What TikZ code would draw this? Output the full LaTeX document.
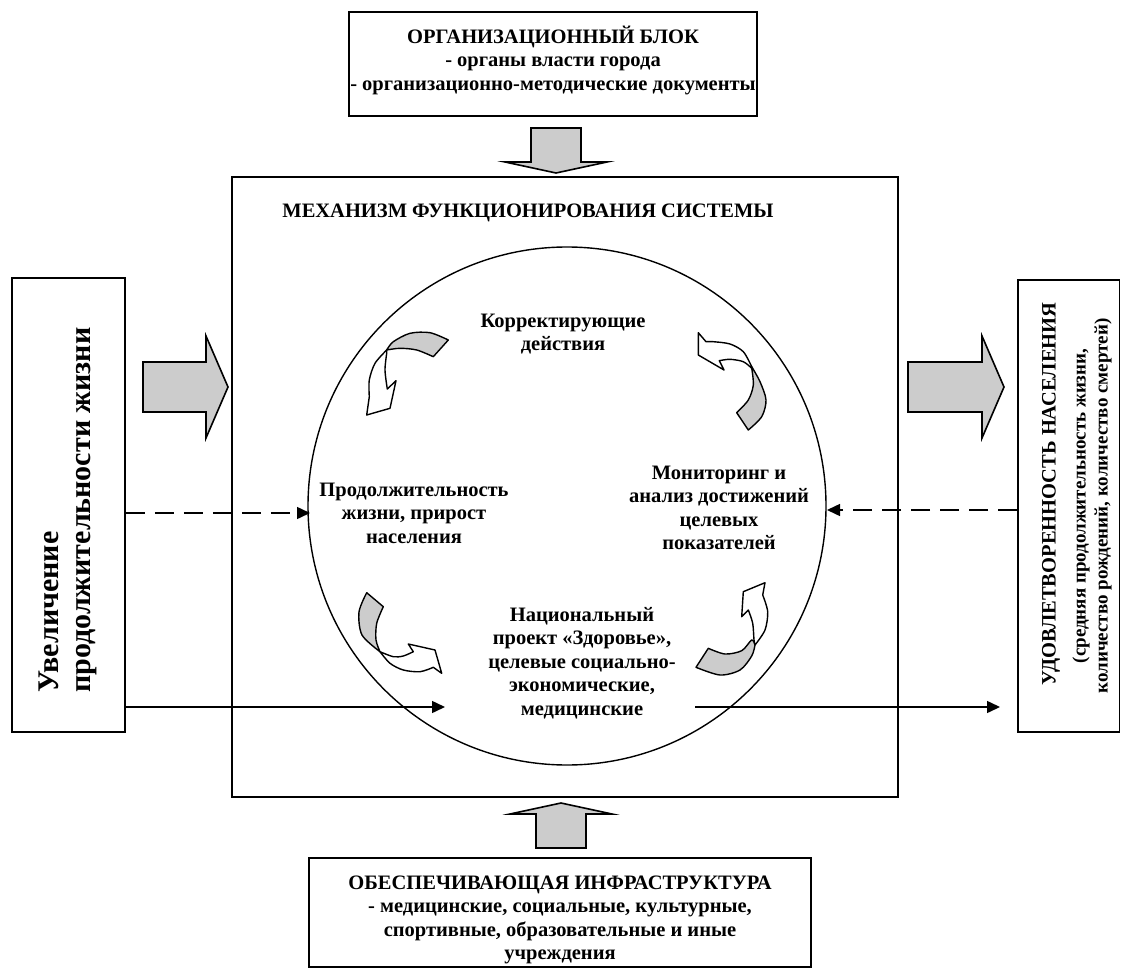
\documentclass[tikz,border=0pt]{standalone}
\usepackage{fontspec}
\setmainfont{Liberation Serif}
\usetikzlibrary{arrows.meta}
\begin{document}
\begin{tikzpicture}[x=1pt,y=-1pt,
  frame/.style={draw, line width=1.8pt, inner sep=0pt},
  lbl/.style={font=\fontsize{20.5}{23.5}\selectfont\bfseries, align=center, inner sep=0pt},
  bigarrow/.style={draw, line width=1.6pt, fill=black!20, line join=miter},
  flow/.style={line width=1.5pt, -{Triangle[length=13pt,width=12pt]}},
  dashflow/.style={flow, dash pattern=on 19pt off 10pt},
  curlgray/.style={draw, line width=1.4pt, fill=black!20, line join=round},
  curlwhite/.style={draw, line width=1.4pt, fill=white, line join=round}]
\useasboundingbox (0,0) rectangle (1121,968);

% boxes
\node[frame, minimum width=408, minimum height=104] (org) at (553,64) {};
\node[lbl] (orgtxt) at (553,60) {ОРГАНИЗАЦИОННЫЙ БЛОК\\- органы власти города\\- организационно-методические документы};

\node[frame, minimum width=666, minimum height=620] (mech) at (565,487) {};
\node[lbl] (mtitle) at (528,213) {МЕХАНИЗМ ФУНКЦИОНИРОВАНИЯ СИСТЕМЫ};
\node[draw, circle, line width=1.4pt, minimum size=518, inner sep=0pt] (circ) at (567,506) {};

\node[frame, minimum width=113, minimum height=454] (lbox) at (68.5,505) {};
\node[rotate=90, anchor=west, align=left, inner sep=0pt, font=\fontsize{30}{32}\selectfont\bfseries] (ltxt) at (68,693) {Увеличение\\продолжительности жизни};

\node[frame, minimum width=101.5, minimum height=452] (rbox) at (1068.75,506) {};
\node[rotate=90, inner sep=0pt, font=\fontsize{20.5}{23}\selectfont\bfseries] (rtitle) at (1051,494) {УДОВЛЕТВОРЕННОСТЬ НАСЕЛЕНИЯ};
\node[rotate=90, align=center, inner sep=0pt, font=\fontsize{19}{22}\selectfont\bfseries] (rsub) at (1092,506) {(средняя продолжительность жизни,\\количество рождений, количество смертей)};

\node[frame, minimum width=502, minimum height=109] (infra) at (560,912.5) {};
\node[lbl] (infratxt) at (560,920) {ОБЕСПЕЧИВАЮЩАЯ ИНФРАСТРУКТУРА\\- медицинские, социальные, культурные,\\спортивные, образовательные и иные\\учреждения};

% circle texts
\node[lbl] (corr) at (563,334) {Корректирующие\\действия};
\node[lbl] (prod) at (414,513) {Продолжительность\\жизни, прирост\\населения};
\node[lbl] (mon) at (719,508) {Мониторинг и\\анализ достижений\\целевых\\показателей};
\node[lbl] (nat) at (582,663) {Национальный\\проект «Здоровье»,\\целевые социально-\\экономические,\\медицинские};

% big gray arrows
\draw[bigarrow] (531,128) -- (581,128) -- (581,162) -- (607,162) -- (556,173) -- (505,162) -- (531,162) -- cycle;
\draw[bigarrow] (536,848) -- (586,848) -- (586,814) -- (612,814) -- (561,803) -- (510,814) -- (536,814) -- cycle;
\draw[bigarrow] (143,362) -- (206,362) -- (206,336) -- (228,387) -- (206,438) -- (206,412) -- (143,412) -- cycle;
\draw[bigarrow] (908,362) -- (982,362) -- (982,336) -- (1004,387) -- (982,438) -- (982,412) -- (908,412) -- cycle;

% flows
\coordinate (ldash) at (310,513);
\coordinate (rdash) at (827,510);
\coordinate (lfoot) at (445,707);
\coordinate (rstart) at (695,707);
\coordinate (rfoot) at (1000,707);
\draw[dashflow] (lbox.east |- ldash) -- (ldash);
\draw[dashflow] (rbox.west |- rdash) -- (rdash);
\draw[flow] (lbox.east |- lfoot) -- (lfoot);
\draw[flow] (rstart) -- (rfoot);

% curved arrow A (top-left)
\filldraw[curlgray] (448.3,340) -- (433.3,356.7) -- plot[smooth] coordinates {(433.3,356.7) (416.7,350) (400,348.3) (386.7,350)} -- plot[smooth] coordinates {(386.7,350) (393.3,341.7) (410,333.3) (430,332.7) (448.3,340)} -- cycle;
\filldraw[curlwhite] plot[smooth] coordinates {(386.7,350) (375,363.3) (369.3,380) (369.3,396.7)} -- (366.7,415) -- (390,408.3) -- (396,380.7) -- (387.3,389) -- plot[smooth] coordinates {(387.3,389) (385,370) (386.7,353.3)} -- cycle;

% curved arrow B (top-right)
\filldraw[curlgray] plot[smooth] coordinates {(751.7,366.7) (760,381.7) (766,400) (761.7,416.7) (748.3,430)} -- (736.7,412.7) -- plot[smooth] coordinates {(736.7,412.7) (748.3,400) (753.3,385) (751.7,368)} -- cycle;
\filldraw[curlwhite] plot[smooth] coordinates {(751.7,366.7) (743.3,351.7) (730,344) (713.3,341.7) (706,341.7)} -- (698.3,332.7) -- (698.3,355) -- (724,370) -- (719.3,360.7) -- plot[smooth] coordinates {(719.3,360.7) (730,359.3) (743.3,361.7) (751.7,368.3)} -- cycle;

% curved arrow C (bottom-left)
\filldraw[curlgray] plot[smooth] coordinates {(366.7,592.7) (359,612) (362,635) (380,651.7)} -- plot[smooth] coordinates {(380,651.7) (376,640) (376.7,623.3) (383.3,606.7)} -- cycle;
\filldraw[curlwhite] plot[smooth] coordinates {(380,651.7) (390,663.3) (403.3,670) (420,671.7) (433.3,667.3)} -- (441.7,673.3) -- (435,650) -- (408.3,644) -- (413.3,651.7) -- plot[smooth] coordinates {(413.3,651.7) (403.3,656) (393.3,656.7) (380,651.7)} -- cycle;

% curved arrow D (bottom-right)
\filldraw[curlgray] plot[smooth] coordinates {(696,667.3) (720,675) (740,670) (751.7,656) (755,645)} -- plot[smooth] coordinates {(755,645) (751.7,640) (741.7,650.7) (725,654) (708.3,648.3)} -- cycle;
\filldraw[curlwhite] plot[smooth] coordinates {(755,645) (765,630) (767.7,611.7) (762.7,595)} -- (765,582.7) -- (743.3,591.7) -- (741.7,616.7) -- (748.3,610) -- plot[smooth] coordinates {(748.3,610) (752.7,623.3) (754,640) (755,645)} -- cycle;
\end{tikzpicture}
\end{document}
